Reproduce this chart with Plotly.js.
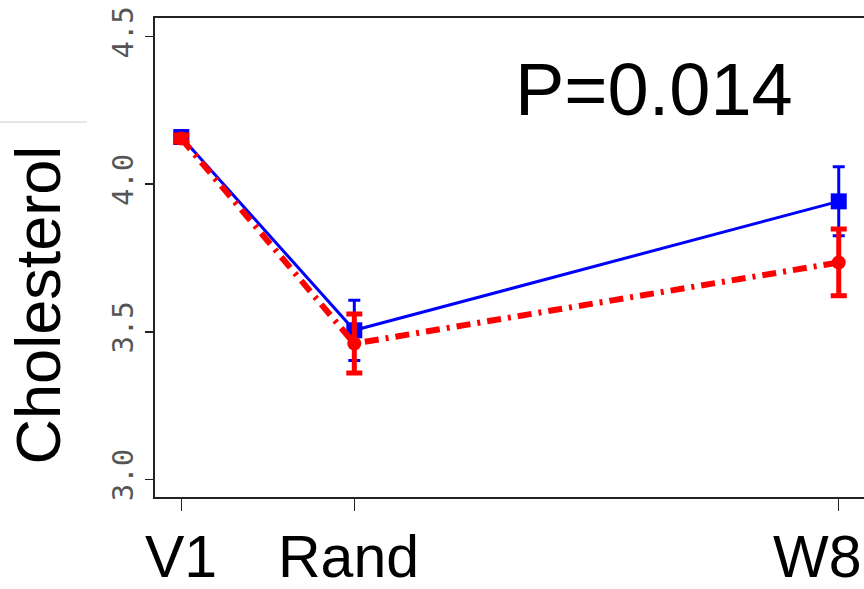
<!DOCTYPE html>
<html>
<head>
<meta charset="utf-8">
<script src="https://cdn.plot.ly/plotly-3.0.1.min.js"></script>
<style>html,body{margin:0;padding:0;background:#fff;}#chart{width:864px;height:589px;}</style>
</head>
<body>
<div id="chart"></div>
<script>
// Data
const visitLabels = ['V1', 'Rand', 'W8'];
const visitDay = [-20, 0, 56];
const blueMean = [4.160, 3.505, 3.942];
const blueErr = [0.012, 0.102, 0.117];
const redMean = [4.155, 3.460, 3.735];
const redErr = [0.012, 0.100, 0.113];
const yTickVals = [3.0, 3.5, 4.0, 4.5];
const yTickText = ['3.0', '3.5', '4.0', '4.5'];
const pText = 'P=0.014';
const yTitle = 'Cholesterol';

const traces = [
  {
    x: visitDay, y: blueMean, type: 'scatter', mode: 'lines+markers',
    line: {color: '#0000ff', width: 3},
    marker: {symbol: 'square', size: 16, color: '#0000ff'},
    error_y: {type: 'data', array: blueErr, visible: true, color: '#0000ff', thickness: 3, width: 6},
    cliponaxis: false, showlegend: false, hoverinfo: 'skip'
  },
  {
    x: visitDay, y: redMean, type: 'scatter', mode: 'lines+markers',
    line: {color: '#ff0000', width: 6, dash: '14px,7px,3px,7px'},
    marker: {symbol: 'circle', size: 14, color: '#ff0000'},
    error_y: {type: 'data', array: redErr, visible: true, color: '#ff0000', thickness: 5, width: 8},
    cliponaxis: false, showlegend: false, hoverinfo: 'skip'
  }
];

const xShifts = [0, -6, -21];
const annotations = visitLabels.map((t, i) => ({
  text: t, x: visitDay[i], xref: 'x', y: 0, yref: 'paper',
  xanchor: 'center', yanchor: 'top', yshift: -25, xshift: xShifts[i],
  showarrow: false, font: {family: 'Arial, Liberation Sans, sans-serif', size: 59, color: '#000'}
}));
annotations.push({
  text: pText, x: 0.7038, xref: 'paper', y: 0.8497, yref: 'paper',
  xanchor: 'center', yanchor: 'middle', showarrow: false,
  font: {family: 'Arial, Liberation Sans, sans-serif', size: 74, color: '#000'}
});
annotations.push({
  text: yTitle, x: -0.1650, xref: 'paper', y: 0.40, yref: 'paper',
  xanchor: 'center', yanchor: 'middle', textangle: -90, showarrow: false,
  font: {family: 'Arial, Liberation Sans, sans-serif', size: 63, color: '#000'}
});

const layout = {
  width: 864, height: 589,
  margin: {l: 155, r: 0, t: 18, b: 92},
  paper_bgcolor: '#ffffff', plot_bgcolor: '#ffffff',
  xaxis: {
    range: [-23.04, 58.92], showgrid: false, zeroline: false,
    showline: true, mirror: true, linecolor: '#222', linewidth: 2,
    ticks: 'outside', ticklen: 12, tickwidth: 1.5, tickcolor: '#222',
    tickvals: visitDay, showticklabels: false
  },
  yaxis: {
    range: [2.940, 4.5634], showgrid: false, zeroline: false,
    showline: true, mirror: false, linecolor: '#222', linewidth: 2,
    ticks: 'outside', ticklen: 8, tickwidth: 1.5, tickcolor: '#222',
    tickvals: yTickVals, ticktext: yTickText, tickangle: -90,
    tickfont: {family: 'DejaVu Sans Mono, monospace', size: 29, color: '#555'}
  },
  shapes: [{
    type: 'line', xref: 'paper', yref: 'paper',
    x0: -155/709, x1: (87-155)/709, y0: 1 - (122-18)/479, y1: 1 - (122-18)/479,
    line: {color: '#cccccc', width: 1}
  }],
  annotations: annotations
};

Plotly.newPlot('chart', traces, layout, {displayModeBar: false, staticPlot: true});
</script>
</body>
</html>
